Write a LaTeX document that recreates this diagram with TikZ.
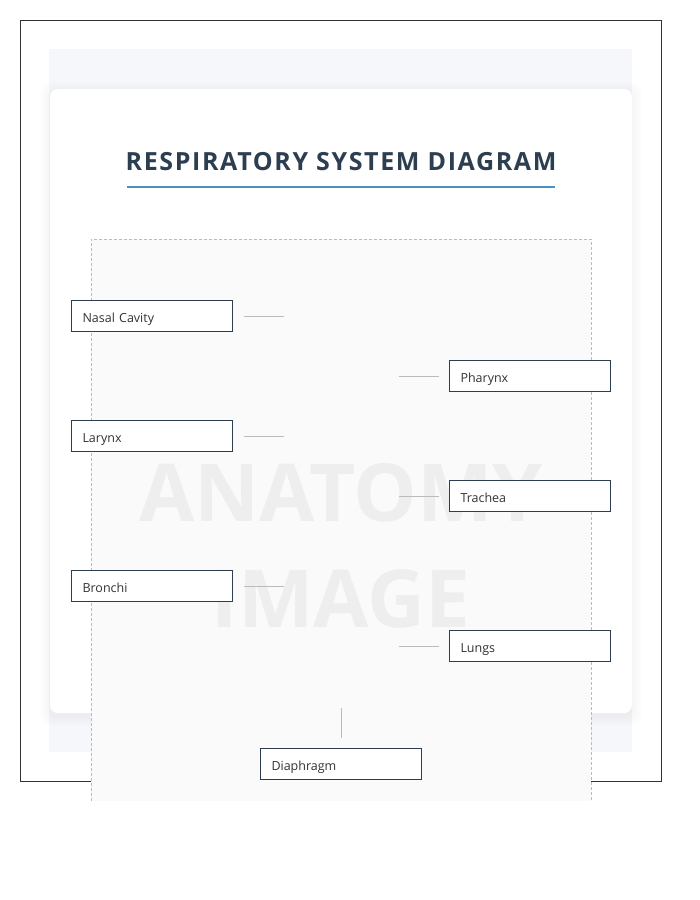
\documentclass[tikz,border=0pt]{standalone}
\usepackage{fontspec}
\setmainfont{Open Sans}
\newfontfamily\headfont[LetterSpace=6.5]{Open Sans}
\definecolor{FrameDark}{HTML}{333333}
\definecolor{PanelTint}{HTML}{F5F7FA}
\definecolor{SlateInk}{HTML}{2C3E50}
\definecolor{RuleBlue}{HTML}{4A90BE}
\definecolor{DashGray}{HTML}{BBBBBB}
\definecolor{PlateFill}{HTML}{FAFAFA}
\definecolor{MarkGray}{HTML}{EEEEEE}
\definecolor{LabelInk}{HTML}{333333}
\usetikzlibrary{positioning,calc}

\begin{document}
\begin{tikzpicture}[x=1pt,y=-1pt,
  tag/.style={draw=SlateInk,fill=white,line width=1pt,minimum height=31pt,
    text width=139pt,inner xsep=11pt,inner ysep=0pt,align=left,
    text height=14pt,text depth=1pt,
    font=\fontsize{12.5}{15}\selectfont,text=LabelInk},
  lead/.style={draw=DashGray,line width=1pt},
  watermark/.style={text=MarkGray,font=\fontsize{80}{90}\selectfont\bfseries}]
\useasboundingbox (0,0) rectangle (700,900);
% outer frame and tinted panel
\draw[FrameDark,line width=1pt] (20.5,20.5) rectangle (661,781);
\fill[PanelTint] (49,49) rectangle (632,752);
% card with soft shadow
\foreach \s in {1,...,10}
  \fill[black,opacity=0.004,rounded corners=10pt] (50-\s,89-\s+3) rectangle (632+\s,713+\s+3);
\fill[white,rounded corners=8pt] (50,89) rectangle (632,713);
% heading
\node[text=SlateInk,font={\headfont\fontsize{25}{30}\selectfont\bfseries}]
  (title) at (341,162) {RESPIRATORY SYSTEM DIAGRAM};
\draw[RuleBlue,line width=2.2pt] (127,187) -- (555,187);
% image plate
\fill[PlateFill] (91,239) rectangle (591,801);
\draw[DashGray,line width=0.8pt,dash pattern=on 3pt off 2pt]
  (91,801) -- (91,239) -- (591,239) -- (591,801);
\node[watermark] (wm-top) at (341,493) {ANATOMY};
\node[watermark] (wm-bot) at (341,598.5) {IMAGE};
% labels on the left
\foreach \nm/\lbl/\y in {nasal/{Nasal Cavity}/300, larynx/Larynx/420, bronchi/Bronchi/570} {
  \node[tag,anchor=north west] (\nm) at (71,\y) {\lbl};
  \coordinate (\nm-a) at ([xshift=11pt]\nm.east);
  \coordinate (\nm-b) at ([xshift=51pt]\nm.east);
  \draw[lead] (\nm-a) -- (\nm-b);
}
% labels on the right
\foreach \nm/\lbl/\y in {pharynx/Pharynx/360, trachea/Trachea/480, lungs/Lungs/630} {
  \node[tag,anchor=north west] (\nm) at (449,\y) {\lbl};
  \coordinate (\nm-a) at ([xshift=-50pt]\nm.west);
  \coordinate (\nm-b) at ([xshift=-10pt]\nm.west);
  \draw[lead] (\nm-a) -- (\nm-b);
}
% label below
\node[tag,anchor=north west] (diaphragm) at (260,748) {Diaphragm};
\coordinate (diaphragm-a) at ([yshift=40pt]diaphragm.north);
\coordinate (diaphragm-b) at ([yshift=10pt]diaphragm.north);
\draw[lead] (diaphragm-a) -- (diaphragm-b);
\end{tikzpicture}
\end{document}
